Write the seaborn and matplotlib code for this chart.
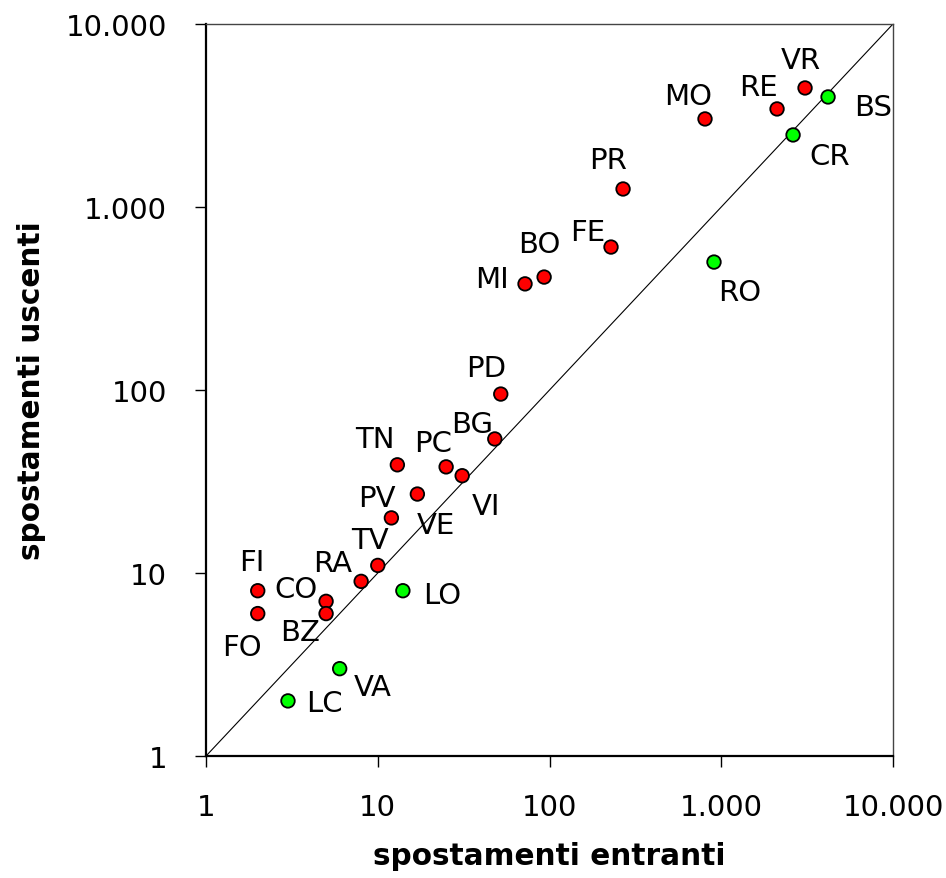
import numpy as np
import pandas as pd
import matplotlib
matplotlib.use("Agg")
import matplotlib.pyplot as plt
import seaborn as sns
from matplotlib.ticker import FixedLocator, FuncFormatter, NullLocator

# data (log-log)
province = ['FI', 'FO', 'CO', 'BZ', 'RA', 'TV', 'LO', 'VA', 'LC', 'PV', 'VE', 'TN', 'PC',
            'VI', 'BG', 'PD', 'MI', 'BO', 'FE', 'PR', 'RO', 'MO', 'RE', 'VR', 'BS', 'CR']
entranti = [2, 2, 5, 5, 8, 10, 14, 6, 3, 12, 17, 13, 25,
            31, 48, 52, 72, 93, 228, 268, 907, 804, 2112, 3074, 4185, 2618]
uscenti = [8, 6, 7, 6, 9, 11, 8, 3, 2, 20, 27, 39, 38,
           34, 54, 95, 380, 414, 604, 1254, 500, 3027, 3433, 4470, 3992, 2475]
gruppo = ['out', 'out', 'out', 'out', 'out', 'out', 'in', 'in', 'in', 'out', 'out', 'out', 'out',
          'out', 'out', 'out', 'out', 'out', 'out', 'out', 'in', 'out', 'out', 'out', 'in', 'in']
axis_range = [1, 10000]
decades = [1, 10, 100, 1000, 10000]

df = pd.DataFrame({'prov': province, 'x': entranti, 'y': uscenti, 'g': gruppo})

# label offsets in pixels from each point
offsets = {
    'FI': (-6, 29), 'FO': (-16, -33), 'CO': (-30, 12), 'BZ': (-26, -18), 'RA': (-29, 18),
    'TV': (-8, 25), 'LO': (39, -4), 'VA': (33, -18), 'LC': (36, -2), 'PV': (-15, 20),
    'VE': (19, -31), 'TN': (-22, 26), 'PC': (-13, 24), 'BG': (-23, 15), 'PD': (-15, 26),
    'VI': (24, -30), 'MI': (-33, 5), 'BO': (-5, 33), 'FE': (-23, 15), 'PR': (-15, 29),
    'RO': (26, -30), 'MO': (-17, 23), 'RE': (-19, 22), 'VR': (-4, 28), 'BS': (45, -10),
    'CR': (37, -21),
}

sns.set_style('white')
plt.rcParams['font.family'] = ['DejaVu Sans']
plt.rcParams['text.color'] = 'black'
plt.rcParams['axes.labelcolor'] = 'black'
plt.rcParams['xtick.color'] = 'black'
plt.rcParams['ytick.color'] = 'black'

fig = plt.figure(figsize=(9.46, 8.79), dpi=100)
ax = fig.add_axes([0.2178, 0.1388, 0.7262, 0.8328])

ax.plot(axis_range, axis_range, color='black', lw=0.8, zorder=1)

sns.scatterplot(data=df, x='x', y='y', hue='g', palette={'out': '#ff0000', 'in': '#00ff00'},
                s=95, edgecolor='black', linewidth=1.3, legend=False, ax=ax, zorder=3)

for _, r in df.iterrows():
    dx, dy = offsets[r['prov']]
    ax.annotate(r['prov'], (r['x'], r['y']), xytext=(dx, dy), textcoords='offset pixels',
                ha='center', va='center', fontsize=21, color='black')

ax.set_xscale('log')
ax.set_yscale('log')
ax.set_xlim(axis_range)
ax.set_ylim(axis_range)

fmt = FuncFormatter(lambda v, p: f"{int(round(v)):,}".replace(',', '.'))
for a in (ax.xaxis, ax.yaxis):
    a.set_major_locator(FixedLocator(decades))
    a.set_minor_locator(NullLocator())
    a.set_major_formatter(fmt)

ax.tick_params(axis='both', which='major', direction='out', length=8, width=1,
               labelsize=21, color='black', labelcolor='black', bottom=True, left=True)
ax.tick_params(axis='x', pad=19)
ax.tick_params(axis='y', pad=20)

for side in ['left', 'bottom']:
    ax.spines[side].set_color('black')
    ax.spines[side].set_linewidth(1.6)
for side in ['top', 'right']:
    ax.spines[side].set_color('#444444')
    ax.spines[side].set_linewidth(1.0)

ax.set_xlabel('spostamenti entranti', fontsize=21.3, fontweight='bold', labelpad=14, color='black')
ax.set_ylabel('spostamenti uscenti', fontsize=21.3, fontweight='bold', labelpad=14, color='black')

fig.savefig('out.png', dpi=100)
